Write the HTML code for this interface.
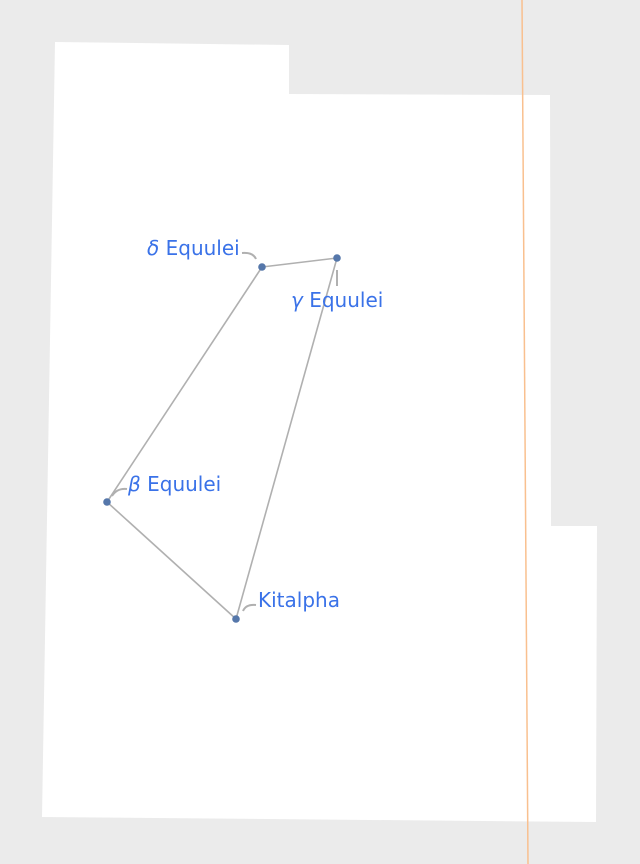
<!DOCTYPE html>
<html><head><meta charset="utf-8"><style>
html,body{margin:0;padding:0;background:#ebebeb;}
svg{display:block}
text{font-family:"DejaVu Sans","Liberation Sans",sans-serif;font-size:20px;fill:#3a72e8}
</style></head><body>
<svg width="640" height="864" viewBox="0 0 640 864" xmlns="http://www.w3.org/2000/svg">
<rect width="640" height="864" fill="#ebebeb"/>
<polygon points="55,42 289,45 289,94 550,95 551,526 597,526 596,822 42,817" fill="#fff"/>
<line x1="522" y1="0" x2="528" y2="864" stroke="#f9c08f" stroke-width="1.5"/>
<g stroke="#b0b0b0" stroke-width="1.6" fill="none">
<line x1="262" y1="267" x2="337" y2="258"/>
<line x1="262" y1="267" x2="107" y2="502"/>
<line x1="337" y1="258" x2="236" y2="619"/>
<line x1="107" y1="502" x2="236" y2="619"/>
<path d="M242,253 Q253,252 256,259" stroke-width="2"/>
<path d="M337,270 L337,286" stroke-width="2"/>
<path d="M112,496 Q117,488 127,489" stroke-width="2"/>
<path d="M243,611 Q246,604 256,605" stroke-width="2"/>
</g>
<g fill="#5577aa">
<circle cx="262" cy="267" r="3.8"/>
<circle cx="337" cy="258" r="3.8"/>
<circle cx="107" cy="502" r="3.8"/>
<circle cx="236" cy="619" r="3.8"/>
</g>
<text x="147" y="255"><tspan font-style="italic">δ</tspan> Equulei</text>
<text x="291" y="307"><tspan font-style="italic">γ</tspan> Equulei</text>
<text x="128" y="491"><tspan font-style="italic">β</tspan> Equulei</text>
<text x="258" y="607">Kitalpha</text>
</svg>
</body></html>
